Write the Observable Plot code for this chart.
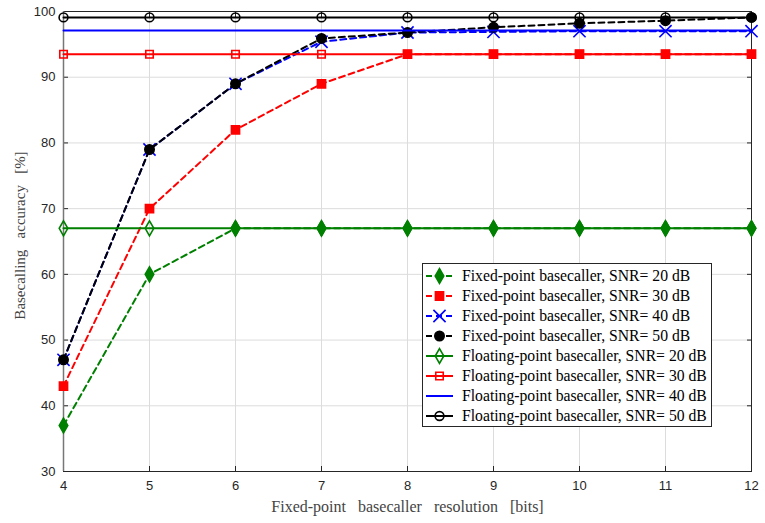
<!DOCTYPE html>
<html><head><meta charset="utf-8">
<script src="https://cdn.jsdelivr.net/npm/d3@7"></script>
<script src="https://cdn.jsdelivr.net/npm/@observablehq/plot@0.6"></script>
<style>
body{margin:0;background:#fff}
#wrap{position:relative;width:765px;height:523px}
#legend{position:absolute;left:422px;top:263px;width:290px;height:164px;border:1px solid #262626;background:#fff;box-sizing:border-box;font-family:"Liberation Serif","DejaVu Serif",serif;font-size:15.7px;color:#000;padding-top:2px}
.row{height:20px;display:flex;align-items:center;white-space:nowrap}
.row svg{flex:none;width:38px;height:20px;margin-right:1px}
</style></head>
<body><div id="wrap"><div id="chart"></div><div id="legend"></div></div>
<script>
const bits = [4, 5, 6, 7, 8, 9, 10, 11, 12];
const yTicks = [30, 40, 50, 60, 70, 80, 90, 100];
const fixed20 = [37, 60, 67, 67, 67, 67, 67, 67, 67];
const fixed30 = [43, 70, 82, 89, 93.5, 93.5, 93.5, 93.5, 93.5];
const fixed40 = [47, 79, 89, 95.4, 96.8, 96.9, 97, 97, 97];
const fixed50 = [47, 79, 89, 95.9, 96.8, 97.6, 98.2, 98.6, 99.1];
const float20 = [67, 67, 67, 67, 67, 67, 67, 67, 67];
const float30 = [93.5, 93.5, 93.5, 93.5, 93.5, 93.5, 93.5, 93.5, 93.5];
const float40 = [97.1, 97.1, 97.1, 97.1, 97.1, 97.1, 97.1, 97.1, 97.1];
const float50 = [99.1, 99.1, 99.1, 99.1, 99.1, 99.1, 99.1, 99.1, 99.1];
const seriesNames = [
  "Fixed-point basecaller, SNR= 20 dB",
  "Fixed-point basecaller, SNR= 30 dB",
  "Fixed-point basecaller, SNR= 40 dB",
  "Fixed-point basecaller, SNR= 50 dB",
  "Floating-point basecaller, SNR= 20 dB",
  "Floating-point basecaller, SNR= 30 dB",
  "Floating-point basecaller, SNR= 40 dB",
  "Floating-point basecaller, SNR= 50 dB"
];
const seriesValues = [fixed20, fixed30, fixed40, fixed50, float20, float30, float40, float50];
const yLabel = "Basecalling\u2002 accuracy\u2002 [%]";
const xLabel = "Fixed-point\u2002 basecaller\u2002 resolution\u2002 [bits]";

const GREEN = "#008000", RED = "#ff0000", BLUE = "#0000ff", BLACK = "#000000";
const styles = [
  {color: GREEN, symbol: "diamond", r: 4.5, dashed: true, filled: true},
  {color: RED, symbol: "square", r: 4.6, dashed: true, filled: true},
  {color: BLUE, symbol: "times", r: 5.6, dashed: true, filled: false},
  {color: BLACK, symbol: "circle", r: 4.7, dashed: true, filled: true},
  {color: GREEN, symbol: "diamond", r: 4.5, dashed: false, filled: false},
  {color: RED, symbol: "square", r: 4.2, dashed: false, filled: false},
  {color: BLUE, symbol: null, r: 0, dashed: false, filled: false},
  {color: BLACK, symbol: "circle", r: 4.4, dashed: false, filled: false}
];

const FONT_SANS = "'Liberation Sans', Arial, sans-serif";
const FONT_SERIF = "'Liberation Serif', 'DejaVu Serif', serif";

const marks = [
  Plot.gridX(bits, {stroke: "#dcdcdc", strokeOpacity: 1}),
  Plot.gridY(yTicks, {stroke: "#dcdcdc", strokeOpacity: 1}),
  Plot.frame({stroke: "#262626", strokeWidth: 1}),
  Plot.axisX({ticks: bits, tickFormat: d => d, tickSize: -5, tickPadding: 14, fontSize: 13, fontFamily: FONT_SANS, color: "#262626", label: null}),
  Plot.axisY({ticks: yTicks, tickFormat: d => d, tickSize: -5, tickPadding: 13, fontSize: 13, fontFamily: FONT_SANS, color: "#262626", label: null}),
  Plot.axisX({anchor: "top", ticks: bits, tickFormat: () => "", tickSize: -5, color: "#262626", label: null}),
  Plot.axisY({anchor: "right", ticks: yTicks, tickFormat: () => "", tickSize: -5, color: "#262626", label: null}),
  Plot.ruleX([4], {stroke: "#777", strokeWidth: 1.5}),
  Plot.ruleY([30], {stroke: "#262626", strokeWidth: 1}),
  Plot.text([yLabel], {frameAnchor: "left", textAnchor: "middle", rotate: -90, dx: -43, dy: -6, fontSize: 15, fontFamily: FONT_SERIF, fill: "#444"}),
  Plot.text([xLabel], {frameAnchor: "bottom", dy: 40, fontSize: 16, fontFamily: FONT_SERIF, fill: "#444"})
];

seriesValues.forEach((vals, i) => {
  const s = styles[i];
  const data = bits.map((b, j) => ({x: b, y: vals[j]}));
  marks.push(Plot.line(data, {x: "x", y: "y", stroke: s.color, strokeWidth: 2, strokeDasharray: s.dashed ? "6,4" : null}));
  if (s.symbol) {
    marks.push(Plot.dot(data, {x: "x", y: "y", symbol: s.symbol, r: s.r,
      fill: s.filled ? s.color : "none", stroke: s.color, strokeWidth: 1.6}));
  }
});

const chart = Plot.plot({
  width: 765, height: 523,
  marginLeft: 63, marginRight: 14, marginTop: 11, marginBottom: 52,
  x: {domain: [4, 12]},
  y: {domain: [30, 100]},
  style: {background: "#fff", overflow: "visible"},
  marks
});
document.getElementById("chart").append(chart);

// legend
const symMap = {diamond: d3.symbolDiamond, square: d3.symbolSquare, times: d3.symbolTimes, circle: d3.symbolCircle};
const legend = d3.select("#legend");
seriesNames.forEach((name, i) => {
  const s = styles[i];
  const row = legend.append("div").attr("class", "row");
  const svg = row.append("svg");
  svg.append("line").attr("x1", 3).attr("x2", 30).attr("y1", 10).attr("y2", 10)
    .attr("stroke", s.color).attr("stroke-width", 2)
    .attr("stroke-dasharray", s.dashed ? "6,4" : null);
  if (s.symbol) {
    svg.append("path").attr("transform", "translate(16.5,10)")
      .attr("d", d3.symbol(symMap[s.symbol], Math.PI * s.r * s.r)())
      .attr("fill", s.filled ? s.color : "none").attr("stroke", s.color).attr("stroke-width", 1.6);
  }
  row.append("span").text(name);
});
</script>
</body></html>
